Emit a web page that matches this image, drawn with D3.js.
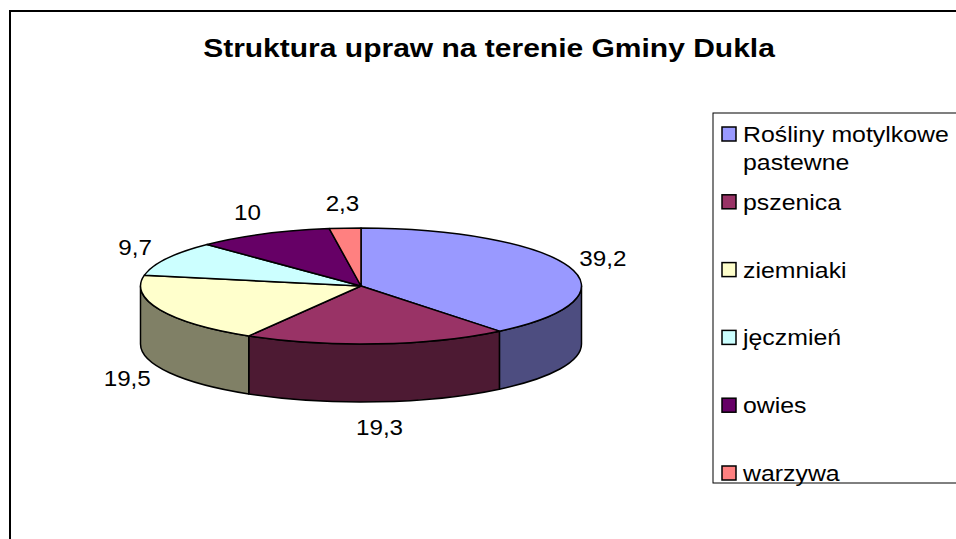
<!DOCTYPE html>
<html>
<head>
<meta charset="utf-8">
<script src="https://cdn.jsdelivr.net/npm/d3@7"></script>
<style>
  body { margin: 0; background: #fff; }
  svg { display: block; font-family: "Liberation Sans", Arial, sans-serif; }
</style>
</head>
<body>
<div id="chart"></div>
<script>
// dane
const categories = ["Rośliny motylkowe pastewne", "pszenica", "ziemniaki", "jęczmień", "owies", "warzywa"];
const values = [39.2, 19.3, 19.5, 9.7, 10, 2.3];
const labels = ["39,2", "19,3", "19,5", "9,7", "10", "2,3"];
const topColors = ["#9999FF", "#993366", "#FFFFCC", "#CCFFFF", "#660066", "#FF8080"];
const sideColors = ["#4D4D80", "#4D1A33", "#808066", "#668080", "#330033", "#804040"];

const W = 956, H = 539;
const svg = d3.select("#chart").append("svg")
  .attr("width", W).attr("height", H);

// tekst lekko rozciągnięty w poziomie, jak w oryginale
function textAt(parent, x, y, sx) {
  return parent.append("text")
    .attr("transform", `translate(${x},${y}) scale(${sx},1)`);
}

// ramka wykresu
svg.append("rect")
  .attr("x", 10).attr("y", 11)
  .attr("width", 980).attr("height", 560)
  .attr("fill", "#fff").attr("stroke", "#000").attr("stroke-width", 2);

// tytuł
textAt(svg, 489, 57, 1.2)
  .attr("text-anchor", "middle")
  .attr("font-size", 25).attr("font-weight", "bold")
  .text("Struktura upraw na terenie Gminy Dukla");

// geometria tortu 3D
const cx = 361, cy = 286, rx = 220.5, ry = 58, depth = 58;
const color = d3.scaleOrdinal().domain(categories).range(topColors);
const side = d3.scaleOrdinal().domain(categories).range(sideColors);

const pie = d3.pie().sort(null).value(d => d.value);
const data = categories.map((c, i) => ({ name: c, value: values[i], label: labels[i] }));
const arcs = pie(data);

function pt(a, dy) {
  return [cx + rx * Math.sin(a), cy - ry * Math.cos(a) + (dy || 0)];
}

// ściany boczne (tylko przednia połowa)
const g = svg.append("g");
arcs.forEach(d => {
  const a0 = Math.max(d.startAngle, Math.PI / 2);
  const a1 = Math.min(d.endAngle, 3 * Math.PI / 2);
  if (a1 <= a0) return;
  const p0 = pt(a0), p1 = pt(a1), q1 = pt(a1, depth), q0 = pt(a0, depth);
  const path = `M${p0}A${rx},${ry} 0 0 1 ${p1}L${q1}A${rx},${ry} 0 0 0 ${q0}Z`;
  g.append("path")
    .attr("d", path)
    .attr("fill", side(d.data.name))
    .attr("stroke", "#000").attr("stroke-width", 1.5)
    .attr("stroke-linejoin", "round");
});

// wierzch
arcs.forEach(d => {
  const p0 = pt(d.startAngle), p1 = pt(d.endAngle);
  const large = d.endAngle - d.startAngle > Math.PI ? 1 : 0;
  g.append("path")
    .attr("d", `M${cx},${cy}L${p0}A${rx},${ry} 0 ${large} 1 ${p1}Z`)
    .attr("fill", color(d.data.name))
    .attr("stroke", "#000").attr("stroke-width", 1.5)
    .attr("stroke-linejoin", "round");
});

// etykiety danych
arcs.forEach(d => {
  const m = (d.startAngle + d.endAngle) / 2;
  const x = cx + (rx + 36) * Math.sin(m);
  let y = cy - (ry + 25) * Math.cos(m);
  if (Math.cos(m) < 0) y += depth;
  textAt(svg, x, y, 1.1)
    .attr("dy", "0.36em")
    .attr("text-anchor", "middle")
    .attr("font-size", 22)
    .text(d.data.label);
});

// legenda
const legend = svg.append("g");
legend.append("rect")
  .attr("x", 713).attr("y", 113)
  .attr("width", 260).attr("height", 370)
  .attr("fill", "#fff").attr("stroke", "#000").attr("stroke-width", 1);

categories.forEach((c, i) => {
  const yc = 134 + i * 67.8;
  legend.append("rect")
    .attr("x", 722).attr("y", yc - 7)
    .attr("width", 14).attr("height", 14)
    .attr("fill", color(c)).attr("stroke", "#000").attr("stroke-width", 1.5);
  const t = textAt(legend, 743, yc, 1.13)
    .attr("dy", "0.36em")
    .attr("font-size", 22);
  if (i === 0) {
    t.append("tspan").attr("x", 0).text("Rośliny motylkowe");
    t.append("tspan").attr("x", 0).attr("dy", 28).text("pastewne");
  } else {
    t.text(c);
  }
});
</script>
</body>
</html>
